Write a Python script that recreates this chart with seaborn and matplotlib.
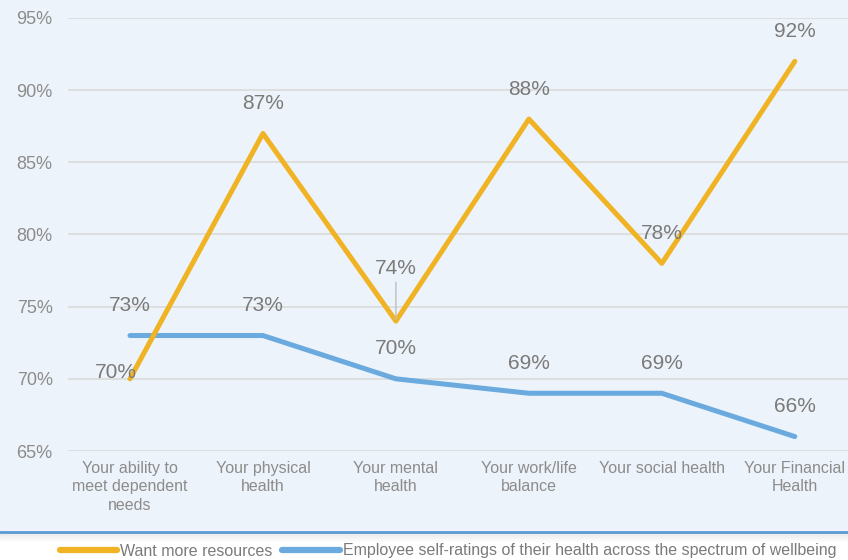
import matplotlib.pyplot as plt
import seaborn as sns
import pandas as pd
from matplotlib.lines import Line2D
from matplotlib.patches import Rectangle

categories = ["Your ability to\nmeet dependent\nneeds", "Your physical\nhealth", "Your mental\nhealth",
              "Your work/life\nbalance", "Your social health", "Your Financial\nHealth"]
want_more = [70, 87, 74, 88, 78, 92]
self_rating = [73, 73, 70, 69, 69, 66]
y_ticks = [65, 70, 75, 80, 85, 90, 95]

name_want = "Want more resources"
name_self = "Employee self-ratings of their health across the spectrum of wellbeing"
orange = "#f0b323"
blue = "#6aaade"

df = pd.DataFrame({
    "category": categories * 2,
    "value": want_more + self_rating,
    "series": [name_want] * 6 + [name_self] * 6,
})

sns.set_style("white")
plt.rcParams["font.family"] = ["Liberation Sans", "DejaVu Sans"]

fig = plt.figure(figsize=(8.48, 5.6), dpi=100)
fig.patch.set_facecolor("white")

# patterned chart area background + bottom rule
fig.patches.append(Rectangle((0, 28 / 560), 1, 1, transform=fig.transFigure,
                             facecolor="#edf3fa", edgecolor="none", zorder=-10))
for k, a in enumerate([0.10, 0.07, 0.05, 0.03, 0.015]):
    fig.lines.append(Line2D([0, 1], [(27 - 2 * k) / 560] * 2, transform=fig.transFigure,
                            color="black", alpha=a, lw=1.5))
fig.lines.append(Line2D([0, 1], [28.5 / 560] * 2, transform=fig.transFigure,
                        color="#5b9bd5", lw=2))

ax = fig.add_axes([68 / 848, 109 / 560, 780 / 848, 433 / 560])
ax.set_facecolor("none")

# blue first so the orange line sits on top
sns.lineplot(data=df[df.series == name_self], x="category", y="value", color=blue,
             lw=3.6, ax=ax, label=name_self, solid_capstyle="round")
sns.lineplot(data=df[df.series == name_want], x="category", y="value", color=orange,
             lw=3.6, ax=ax, label=name_want, solid_capstyle="round")

ax.set_xlim(-0.466, 5.4)
ax.set_ylim(65, 95)
ax.set_yticks(y_ticks)
ax.set_yticklabels([f"{t}%" for t in y_ticks])
ax.yaxis.grid(True, color="#dcdcdc", lw=1.3)
ax.set_axisbelow(True)
for s in ax.spines.values():
    s.set_visible(False)
ax.set_xlabel("")
ax.set_ylabel("")
ax.tick_params(axis="y", length=0, pad=11, labelsize=13, labelcolor="#8c8c8c")
ax.tick_params(axis="x", length=0, pad=7, labelsize=11.5, labelcolor="#8c8c8c")
for t in ax.get_xticklabels():
    t.set_linespacing(1.3)

lab_color = "#7a7a7a"
want_offsets = [(-14, 6), (0, 30), (0, 53), (0, 30), (0, 30), (0, 30)]
for i, v in enumerate(want_more):
    dx, dy = want_offsets[i]
    kw = {}
    if dy > 40:
        kw["arrowprops"] = dict(arrowstyle="-", color="#bfbfbf", lw=1, shrinkA=1, shrinkB=1)
    ax.annotate(f"{v}%", xy=(i, v), xytext=(dx, dy), textcoords="offset pixels",
                ha="center", va="center", fontsize=15, color=lab_color, **kw)
for i, v in enumerate(self_rating):
    ax.annotate(f"{v}%", xy=(i, v), xytext=(0, 30), textcoords="offset pixels",
                ha="center", va="center", fontsize=15, color=lab_color)

ax.legend_.remove()
h = [Line2D([], [], color=orange, lw=4.5, solid_capstyle="round"),
     Line2D([], [], color=blue, lw=4.5, solid_capstyle="round")]
fig.legend(h, [name_want, name_self], loc="center", bbox_to_anchor=(448 / 848, 9 / 560),
           ncol=2, frameon=False, fontsize=11.5, handlelength=3.6, handletextpad=0.2,
           columnspacing=0.6, labelcolor="#7a7a7a")

fig.savefig("out.png", dpi=100)
